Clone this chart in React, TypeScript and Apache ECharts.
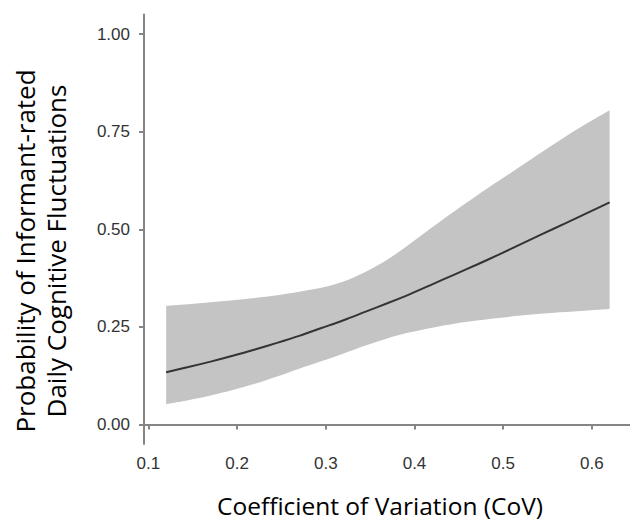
import React, { useEffect, useRef } from "react";
import * as echarts from "echarts";

const xs = [0.12, 0.145, 0.17, 0.195, 0.22, 0.245, 0.27, 0.295, 0.32, 0.345, 0.37, 0.395, 0.42, 0.445, 0.47, 0.495, 0.52, 0.545, 0.57, 0.595, 0.62];
const fit = [0.134, 0.147, 0.161, 0.176, 0.192, 0.209, 0.227, 0.247, 0.267, 0.289, 0.311, 0.334, 0.359, 0.384, 0.409, 0.435, 0.462, 0.489, 0.515, 0.542, 0.569];
const lower = [0.052, 0.062, 0.074, 0.088, 0.104, 0.123, 0.143, 0.162, 0.182, 0.202, 0.221, 0.236, 0.248, 0.258, 0.266, 0.273, 0.279, 0.284, 0.288, 0.292, 0.296];
const upper = [0.304, 0.308, 0.313, 0.318, 0.324, 0.331, 0.34, 0.35, 0.366, 0.391, 0.423, 0.463, 0.505, 0.546, 0.586, 0.624, 0.662, 0.700, 0.737, 0.772, 0.805];
const xTicks = [0.1, 0.2, 0.3, 0.4, 0.5, 0.6];
const yTicks = [0, 0.25, 0.5, 0.75, 1];
const xTitle = "Coefficient of Variation (CoV)";
const yTitle = "Probability of Informant-rated\nDaily Cognitive Fluctuations";

export default function App() {
  const ref = useRef<HTMLDivElement>(null);
  useEffect(() => {
    document.body.style.margin = "0";
    const chart = echarts.init(ref.current!, null, { renderer: "svg" });
    const axisColor = "#858585";
    const labelStyle = {
      color: "#333333",
      fontFamily: "Liberation Sans, Arial, sans-serif",
      fontSize: 17,
    };
    chart.setOption({
      animation: false,
      grid: { left: 144, right: 0, top: 14.5, bottom: 76, containLabel: false },
      xAxis: {
        type: "value",
        min: 0.095,
        max: 0.643,
        splitLine: { show: false },
        axisLine: { show: true, lineStyle: { color: axisColor, width: 2 } },
        axisTick: {
          show: true,
          length: 5,
          customValues: xTicks,
          lineStyle: { color: axisColor, width: 2 },
        },
        axisLabel: {
          ...labelStyle,
          margin: 11,
          customValues: xTicks,
          formatter: (v: number) => v.toFixed(1),
        },
      },
      yAxis: {
        type: "value",
        min: -0.05,
        max: 1.05,
        splitLine: { show: false },
        axisLine: { show: true, lineStyle: { color: axisColor, width: 2 } },
        axisTick: {
          show: true,
          length: 5,
          customValues: yTicks,
          lineStyle: { color: axisColor, width: 2 },
        },
        axisLabel: {
          ...labelStyle,
          margin: 14,
          customValues: yTicks,
          formatter: (v: number) => v.toFixed(2),
        },
      },
      graphic: [
        {
          type: "text",
          x: 380,
          y: 505,
          style: {
            text: xTitle,
            font: '24.5px "Open Sans", sans-serif',
            fill: "#000000",
            textAlign: "center",
            textVerticalAlign: "middle",
          },
        },
        {
          type: "text",
          x: 40,
          y: 251,
          rotation: Math.PI / 2,
          style: {
            text: yTitle,
            font: '26px "Open Sans", sans-serif',
            lineHeight: 31,
            fill: "#000000",
            textAlign: "center",
            textVerticalAlign: "middle",
          },
        },
      ],
      series: [
        {
          type: "line",
          name: "lower",
          stack: "ci",
          data: xs.map((x, i) => [lower[i], x]),
          encode: { x: 1, y: 0 },
          smooth: 0.3,
          symbol: "none",
          lineStyle: { opacity: 0 },
          silent: true,
        },
        {
          type: "line",
          name: "band",
          stack: "ci",
          data: xs.map((x, i) => [upper[i] - lower[i], x]),
          encode: { x: 1, y: 0 },
          smooth: 0.3,
          symbol: "none",
          lineStyle: { opacity: 0 },
          areaStyle: { color: "#c4c4c4", opacity: 1 },
          silent: true,
        },
        {
          type: "line",
          name: "fit",
          data: xs.map((x, i) => [x, fit[i]]),
          smooth: 0.3,
          symbol: "none",
          lineStyle: { color: "#333333", width: 2 },
          z: 5,
        },
      ],
    });
    return () => chart.dispose();
  }, []);
  return <div ref={ref} style={{ width: 630, height: 520 }} />;
}
